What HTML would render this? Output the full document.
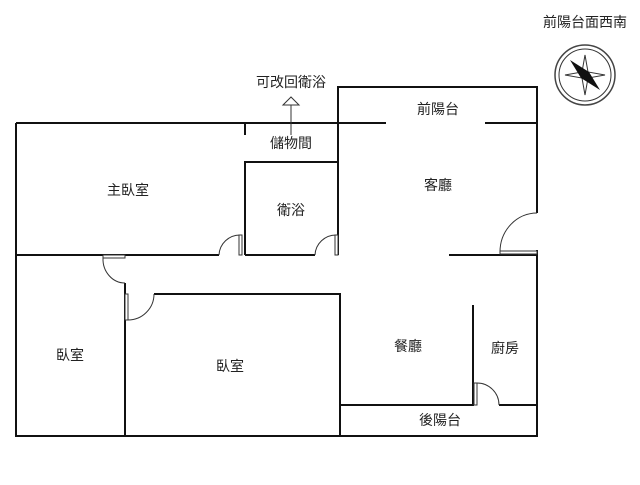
<!DOCTYPE html>
<html><head><meta charset="utf-8"><style>
body{margin:0;background:#fff}
text{font-family:"Liberation Sans","Noto Sans CJK TC",sans-serif;font-size:14px;fill:#222;text-anchor:middle}
</style></head><body>
<svg width="640" height="480" viewBox="0 0 640 480" xmlns="http://www.w3.org/2000/svg">
<g stroke="#111" stroke-width="2" fill="none">
<!-- outer -->
<path d="M16,123 H386 M485,123 H537"/>
<path d="M16,123 V436 H537 V250"/>
<path d="M537,213 V87 H338 V255"/>
<path d="M245,123 V135"/>
<!-- bath -->
<path d="M245,255 V162 H338"/>
<path d="M245,255 H315"/>
<!-- master bottom -->
<path d="M16,255 H219"/>
<!-- bedroom -->
<path d="M125,283 V436"/>
<path d="M154,294 H340 V436"/>
<!-- living/kitchen -->
<path d="M449,255 H537"/>
<path d="M473,305 V405 H340"/>
<path d="M499,405 H537"/>
</g>
<g stroke="#333" stroke-width="1" fill="none">
<path d="M219,255 A21,21 0 0 1 240,235"/>
<rect x="239" y="235" width="3" height="20" fill="#fff"/>
<path d="M315,255 A21,21 0 0 1 336,235"/>
<rect x="335" y="235" width="3" height="20" fill="#fff"/>
<rect x="103" y="255" width="22" height="3" fill="#fff"/>
<path d="M103,258 A22,24 0 0 0 125,283"/>
<rect x="125" y="294" width="3" height="26" fill="#fff"/>
<path d="M128,320 A26,26 0 0 0 154,294"/>
<path d="M500,252 A37,39 0 0 1 537,213"/>
<rect x="500" y="251" width="37" height="3" fill="#fff"/>
<rect x="474" y="383" width="3" height="22" fill="#fff"/>
<path d="M477,383 A22,22 0 0 1 499,405"/>
<!-- arrow -->
<path d="M291,135 V105"/>
<path d="M283,105 L291,97 L299,105 Z" fill="#fff"/>
<!-- compass -->
<circle cx="585" cy="75" r="30" stroke="#444" stroke-width="1.5"/>
<circle cx="585" cy="75" r="26"/>
<path d="M585,55 L588,72 L605,75 L588,78 L585,95 L582,78 L565,75 L582,72 Z"/>
</g>
<path d="M570,60 L589,72 L600,90 L581,78 Z" fill="#111"/>
<text x="128" y="195">主臥室</text>
<text x="291" y="215">衛浴</text>
<text x="291" y="148">儲物間</text>
<text x="291" y="87">可改回衛浴</text>
<text x="438" y="114">前陽台</text>
<text x="438" y="190">客廳</text>
<text x="70" y="360">臥室</text>
<text x="230" y="371">臥室</text>
<text x="408" y="351">餐廳</text>
<text x="505" y="353">廚房</text>
<text x="440" y="425">後陽台</text>
<text x="585" y="27">前陽台面西南</text>
</svg>
</body></html>
